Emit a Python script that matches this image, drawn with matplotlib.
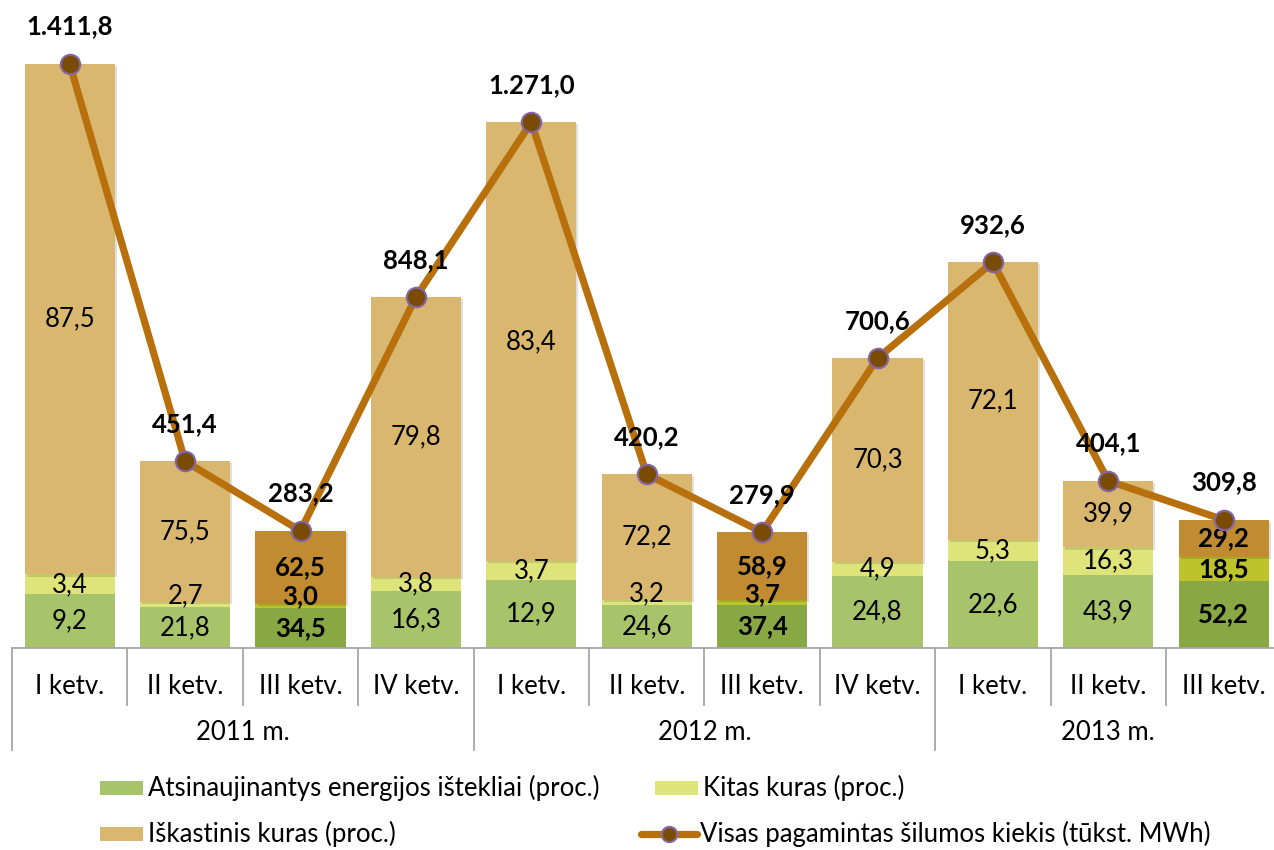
import matplotlib
matplotlib.use("Agg")
import matplotlib.pyplot as plt
from matplotlib.patches import Rectangle
from matplotlib.lines import Line2D
from matplotlib.transforms import blended_transform_factory
import matplotlib.patheffects as pe

# ---------------- data ----------------
quarters = ["I ketv.", "II ketv.", "III ketv.", "IV ketv.",
            "I ketv.", "II ketv.", "III ketv.", "IV ketv.",
            "I ketv.", "II ketv.", "III ketv."]
years = ["2011 m.", "2012 m.", "2013 m."]
year_sizes = [4, 4, 3]
renewable = [9.2, 21.8, 34.5, 16.3, 12.9, 24.6, 37.4, 24.8, 22.6, 43.9, 52.2]
other_fuel = [3.4, 2.7, 3.0, 3.8, 3.7, 3.2, 3.7, 4.9, 5.3, 16.3, 18.5]
fossil = [87.5, 75.5, 62.5, 79.8, 83.4, 72.2, 58.9, 70.3, 72.1, 39.9, 29.2]
total_heat = [1411.8, 451.4, 283.2, 848.1, 1271.0, 420.2, 279.9, 700.6, 932.6, 404.1, 309.8]

labels = ["Atsinaujinantys energijos ištekliai (proc.)", "Kitas kuras (proc.)",
          "Iškastinis kuras (proc.)", "Visas pagamintas šilumos kiekis (tūkst. MWh)"]

# ---------------- style ----------------
FONT = "Lato"
c_ren, c_oth, c_fos = "#A7C46A", "#DFE47A", "#D9B76F"
c_ren_h, c_oth_h, c_fos_h = "#87A843", "#BDC32B", "#C18B31"
c_line, c_mark, c_medge = "#B7700C", "#7A4B02", "#8466A8"
c_axis = "#A6A6A6"
FS = 18.5

W, H = 1274, 850
fig = plt.figure(figsize=(W / 100, H / 100), dpi=100)

def fx(px):
    return px / W

def fy(py):
    return 1 - py / H

step = 115.4
left_px = 12
axis_px = 648
n = len(quarters)
ax = fig.add_axes([fx(left_px), fy(axis_px), fx(n * step), axis_px / H])
ppu = 584 / 1411.8
ax.set_xlim(-0.5, n - 0.5)
ax.set_ylim(0, axis_px / ppu)
ax.axis("off")

bw = 0.78
shadow = [pe.SimplePatchShadow(offset=(1.5, -1.5), shadow_rgbFace="#000000", alpha=0.12), pe.Normal()]
for i in range(n):
    s = renewable[i] + other_fuel[i] + fossil[i]
    hl = quarters[i] == "III ketv."
    cols = (c_ren_h, c_oth_h, c_fos_h) if hl else (c_ren, c_oth, c_fos)
    bottom = 0
    for k, (pct, col) in enumerate(zip((renewable[i], other_fuel[i], fossil[i]), cols)):
        h = total_heat[i] * pct / s
        ax.bar(i, h, bw, bottom=bottom, color=col, linewidth=0, zorder=2,
               path_effects=shadow if k == 2 else None)
        txt = f"{pct:.1f}".replace(".", ",")
        weight = "bold" if hl else "normal"
        if h * ppu < 10:
            ax.text(i, bottom - 1 / ppu, txt, ha="center", va="bottom", fontsize=FS,
                    family=FONT, fontweight=weight, zorder=5)
        else:
            ax.text(i, bottom + h / 2, txt, ha="center", va="center", fontsize=FS,
                    family=FONT, fontweight=weight, zorder=5)
        bottom += h

xs = list(range(n))
ax.plot(xs, total_heat, color=c_line, lw=5.2, zorder=6, solid_capstyle="round",
        marker="o", markersize=14, markerfacecolor=c_mark, markeredgecolor=c_medge,
        markeredgewidth=1.5, clip_on=False)

def fmt_total(v):
    s = f"{v:,.1f}"
    return s.replace(",", " ").replace(".", ",").replace(" ", ".")

for i, v in enumerate(total_heat):
    ax.annotate(fmt_total(v), (i, v), xytext=(0, 27), textcoords="offset points",
                ha="center", va="center", fontsize=FS, fontweight="bold", family=FONT,
                zorder=7, annotation_clip=False)

# ---------------- category axis ----------------
tr = blended_transform_factory(ax.transData, fig.transFigure)
fig.add_artist(Line2D([-0.5, n], [fy(axis_px)] * 2, transform=tr, color=c_axis, lw=1.3))
year_edges = [0]
for sz in year_sizes:
    year_edges.append(year_edges[-1] + sz)
for k in range(n + 1):
    bottom_px = 750 if k in year_edges else 705
    fig.add_artist(Line2D([k - 0.5, k - 0.5], [fy(axis_px), fy(bottom_px)], transform=tr,
                          color=c_axis, lw=1.3))
for i, q in enumerate(quarters):
    fig.add_artist(plt.Text(i, fy(686), q, transform=tr, ha="center", va="center",
                            fontsize=FS, family=FONT))
for j, yname in enumerate(years):
    cx = (year_edges[j] + year_edges[j + 1] - 1) / 2
    fig.add_artist(plt.Text(cx, fy(732), yname, transform=tr, ha="center", va="center",
                            fontsize=FS, family=FONT))

# ---------------- legend ----------------
def leg_patch(x0, yc, col, text):
    fig.add_artist(Rectangle((fx(x0), fy(yc + 7)), fx(43), 14 / H, transform=fig.transFigure,
                             facecolor=col, edgecolor="none"))
    fig.text(fx(x0 + 48), fy(yc), text, ha="left", va="center", fontsize=FS, family=FONT)

leg_patch(100, 788, c_ren, labels[0])
leg_patch(655, 788, c_oth, labels[1])
leg_patch(100, 834, c_fos, labels[2])
fig.add_artist(Line2D([fx(641), fx(697)], [fy(834)] * 2, transform=fig.transFigure, color=c_line,
                      lw=5.2, solid_capstyle="round"))
fig.add_artist(Line2D([fx(669)], [fy(834)], transform=fig.transFigure, marker="o", markersize=11,
                      markerfacecolor=c_mark, markeredgecolor=c_medge, markeredgewidth=1.5,
                      linestyle="none"))
fig.text(fx(700), fy(834), labels[3], ha="left", va="center", fontsize=FS, family=FONT)

fig.savefig("out.png", dpi=100)
